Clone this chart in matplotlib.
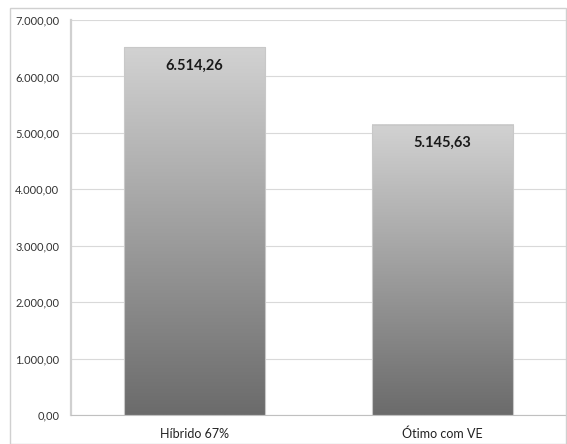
import matplotlib
matplotlib.use("Agg")
import matplotlib.pyplot as plt
import numpy as np
from matplotlib.patches import Rectangle
from matplotlib.ticker import FuncFormatter, MultipleLocator

categories = ["Híbrido 67%", "Ótimo com VE"]
values = [6514.26, 5145.63]

plt.rcParams['font.family'] = ['Lato', 'DejaVu Sans']


def br(v, decimals=2):
    s = f"{v:,.{decimals}f}"
    return s.replace(",", "X").replace(".", ",").replace("X", ".")


fig = plt.figure(figsize=(5.67, 4.44), dpi=100)
ax = fig.add_axes([70.5 / 567, 29 / 444, 496 / 567, 395 / 444])

# outer chart border
fig.patches.append(Rectangle((10 / 567, 0), 556 / 567, 436 / 444, transform=fig.transFigure,
                             fill=False, edgecolor="#d0d0d0", linewidth=1.0))

x = np.arange(len(categories))
bars = ax.bar(x, values, width=0.57, facecolor="none", edgecolor="#c8c8c8", linewidth=0.8, zorder=3)

grad = np.linspace(0, 1, 256).reshape(-1, 1)
cmap = matplotlib.colors.LinearSegmentedColormap.from_list("g", ["#6b6b6b", "#d2d2d2"])
for b in bars:
    x0, w, h = b.get_x(), b.get_width(), b.get_height()
    ax.imshow(grad, extent=[x0, x0 + w, 0, h], origin="lower", aspect="auto",
              cmap=cmap, zorder=2)
    ax.text(x0 + w / 2, h - 320, br(h), ha="center", va="center",
            fontsize=10.5, fontweight="bold", color="#1a1a1a", zorder=4)

ax.set_xlim(-0.5, len(categories) - 0.5)
ax.set_ylim(0, 7000)
ax.yaxis.set_major_locator(MultipleLocator(1000))
ax.yaxis.set_major_formatter(FuncFormatter(lambda v, p: br(v)))
ax.set_xticks(x)
ax.set_xticklabels(categories, fontsize=9, color="#222222")
ax.tick_params(axis="y", labelsize=8, colors="#333333", length=0, pad=8)
ax.tick_params(axis="x", length=0, pad=9)
ax.grid(axis="y", color="#d9d9d9", linewidth=0.8, zorder=0)
ax.set_axisbelow(True)
for s in ["top", "right"]:
    ax.spines[s].set_visible(False)
ax.spines["left"].set_color("#d0d0d0")
ax.spines["left"].set_linewidth(1.6)
ax.spines["bottom"].set_color("#c0c0c0")
ax.spines["bottom"].set_linewidth(0.8)

fig.savefig("out.png", dpi=100)
